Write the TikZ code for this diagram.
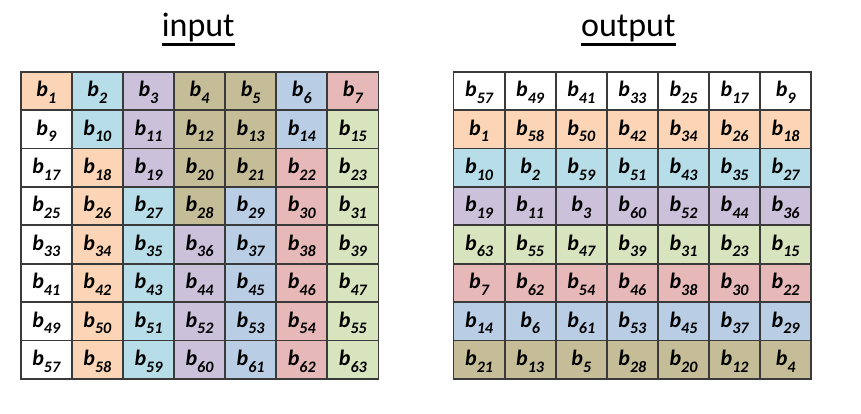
\documentclass[tikz,border=0pt]{standalone}
\usepackage{fontspec}
\setmainfont{Carlito}
\usepackage{tikz}
\usetikzlibrary{positioning}

\definecolor{orng}{HTML}{FBD5B5}
\definecolor{aqua}{HTML}{B7DDE8}
\definecolor{purp}{HTML}{CCC1DA}
\definecolor{khaki}{HTML}{C4BD97}
\definecolor{blu}{HTML}{B9CDE5}
\definecolor{rd}{HTML}{E6B9B8}
\definecolor{grn}{HTML}{D7E4BD}
\definecolor{gridline}{HTML}{3A3A3A}

\newcommand{\bidx}[1]{b\raisebox{-6.5pt}{\fontsize{16}{17}\selectfont #1}}

\begin{document}
\begin{tikzpicture}[x=1pt,y=-1pt]
	\tikzstyle{cell}=[draw=gridline,line width=1.8pt,minimum width=51.1pt,minimum height=38.4pt,inner sep=0pt,text height=11.7pt,text depth=0pt,font=\fontsize{22}{24}\selectfont\bfseries\itshape]
	\tikzstyle{title}=[font=\fontsize{34}{40}\selectfont,inner sep=0pt,anchor=base]
	\useasboundingbox (0,0) rectangle (861,414);
		% input grid
		\foreach [count=\ri] \rowfill in {{orng,aqua,purp,khaki,khaki,blu,rd},{white,aqua,purp,khaki,khaki,blu,grn},{white,orng,purp,khaki,khaki,rd,grn},{white,orng,aqua,khaki,blu,rd,grn},{white,orng,aqua,purp,blu,rd,grn},{white,orng,aqua,purp,blu,rd,grn},{white,orng,aqua,purp,blu,rd,grn},{white,orng,aqua,purp,blu,rd,grn}}
			\foreach [count=\ci] \fc in \rowfill {
				\pgfmathtruncatemacro{\n}{8*(\ri-1)+\ci}
				\node[cell,fill=\fc] (in-\ri-\ci) at ({20.7+(\ci-0.5)*51.1},{71.7+(\ri-0.5)*38.4}) {\bidx{\n}};
			}
		% output grid
		\foreach [count=\ri] \fc/\nums in {white/{57,49,41,33,25,17,9},orng/{1,58,50,42,34,26,18},aqua/{10,2,59,51,43,35,27},purp/{19,11,3,60,52,44,36},grn/{63,55,47,39,31,23,15},rd/{7,62,54,46,38,30,22},blu/{14,6,61,53,45,37,29},khaki/{21,13,5,28,20,12,4}}
			\foreach [count=\ci] \n in \nums {
				\node[cell,fill=\fc] (out-\ri-\ci) at ({453.5+(\ci-0.5)*51.1},{71.7+(\ri-0.5)*38.4}) {\bidx{\n}};
			}
		% titles
		\node[title] (ttl-in) at (198.3,36.7) {input};
		\node[title] (ttl-out) at (628.3,36.7) {output};
			\draw[line width=3pt] ([yshift=-7.5pt]ttl-in.base west) -- ([yshift=-7.5pt]ttl-in.base east);
			\draw[line width=3pt] ([yshift=-7.5pt]ttl-out.base west) -- ([yshift=-7.5pt]ttl-out.base east);
\end{tikzpicture}
\end{document}
